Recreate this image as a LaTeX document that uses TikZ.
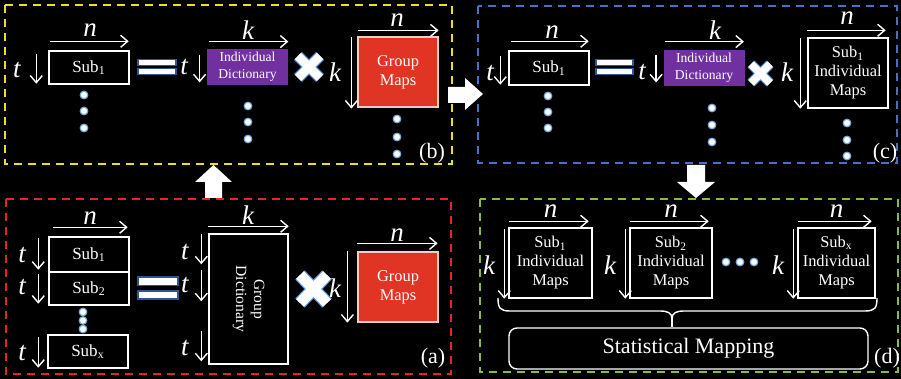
\documentclass[tikz,border=0pt]{standalone}
\usepackage{fontspec}
\setmainfont{Liberation Serif}
\usetikzlibrary{arrows.meta,positioning}

\definecolor{panelyellow}{RGB}{232,224,32}
\definecolor{panelblue}{RGB}{68,114,196}
\definecolor{panelred}{RGB}{224,40,32}
\definecolor{panelgreen}{RGB}{132,190,60}
\definecolor{dictpurple}{RGB}{112,48,160}
\definecolor{mapred}{RGB}{224,52,36}
\definecolor{dotblue}{RGB}{120,170,225}
\definecolor{eqblue}{RGB}{47,85,151}
\definecolor{xblue}{RGB}{90,150,220}

\tikzset{
  subbox/.style={draw=white, line width=0.7pt, fill=black, text=white, inner sep=0pt,
    align=center, minimum width=40pt, font=\fontsize{8.5}{9.5}\selectfont},
  dictbox/.style={fill=dictpurple, text=white, inner sep=0pt, align=center,
    minimum width=40.5pt, minimum height=18pt, font=\fontsize{6.8}{8.3}\selectfont},
  mapbox/.style={fill=mapred, draw=white!75!mapred, line width=0.6pt, text=white, inner sep=0pt,
    align=center, minimum width=40pt, minimum height=35pt, font=\fontsize{8.2}{9.5}\selectfont},
  dimarrow/.style={white, line width=0.7pt, -{Straight Barb[length=3.5pt,width=6pt]}},
  dimlbl/.style={text=white, inner sep=0pt, font=\fontsize{13.5}{13.5}\selectfont\itshape},
  dotmark/.style={circle, fill=white, draw=dotblue, line width=0.6pt, inner sep=0pt, minimum size=3.8pt},
  eqbar/.style={fill=white, draw=eqblue, line width=0.6pt, inner sep=0pt, minimum width=19pt, minimum height=2.8pt},
  panelframe/.style={line width=1pt, dash pattern=on 4pt off 3pt},
  paneltag/.style={text=white, inner sep=0pt, font=\fontsize{11}{11}\selectfont}
}

\begin{document}
\begin{tikzpicture}[x=0.5pt,y=-0.5pt]
\fill[black] (0,0) rectangle (901,379);
\useasboundingbox (0,0) rectangle (901,379);

% dashed panels
\draw[panelframe, draw=panelyellow] (5,5) rectangle (452,164);
\draw[panelframe, draw=panelblue] (478,6) rectangle (897,163);
\draw[panelframe, draw=panelred] (6,199) rectangle (451,374);
\draw[panelframe, draw=panelgreen] (480,199) rectangle (898,372);

% block arrows between panels
\fill[white] (205,198) -- (205,182) -- (195,182) -- (213.5,165) -- (232,182) -- (222,182) -- (222,198) -- cycle;
\fill[white] (448,87) -- (465,87) -- (465,78) -- (483,94) -- (465,110) -- (465,103) -- (448,103) -- cycle;
\fill[white] (687,165) -- (705,165) -- (705,182) -- (715,182) -- (696,198) -- (677,182) -- (687,182) -- cycle;

%%% (b)
\node[subbox, minimum height=16.5pt] (sub1b) at (89,67.5) {Sub\textsubscript{1}};
\draw[dimarrow] ([shift={(2,-9)}]sub1b.north west) -- ([shift={(-1,-9)}]sub1b.north east);
\node[dimlbl] (nb1) at (90,30) {n};
\draw[dimarrow] ([shift={(-12,4)}]sub1b.north west) -- ([shift={(-12,-1)}]sub1b.south west);
\node[dimlbl] (tb1) at (17,70) {t};
\foreach \y [count=\i] in {95,111,128} \node[dotmark] (dotb1\i) at (84,\y) {};

\node[eqbar] (eqb1) at (157,62.5) {};
\node[eqbar] (eqb2) at (157,71.5) {};

\node[dictbox] (dictb) at (247.5,67) {Individual\\Dictionary};
\draw[dimarrow] ([shift={(2,-7)}]dictb.north west) -- ([shift={(0,-7)}]dictb.north east);
\node[dimlbl] (kb1) at (248,30) {k};
\draw[dimarrow] ([shift={(-7,6)}]dictb.north west) -- ([shift={(-7,-3)}]dictb.south west);
\node[dimlbl] (tb2) at (184,67) {t};
\foreach \y [count=\i] in {106,122,139} \node[dotmark] (dotb2\i) at (248,\y) {};

\draw[xblue, line width=5.5pt] (298,56) -- (320,78) (298,78) -- (320,56);
\draw[white, line width=4.4pt] (298,56) -- (320,78) (298,78) -- (320,56);

\node[mapbox] (mapsb) at (398,72) {Group\\Maps};
\draw[dimarrow] ([shift={(1,-6)}]mapsb.north west) -- ([shift={(0,-6)}]mapsb.north east);
\node[dimlbl] (nb2) at (397,20) {n};
\draw[dimarrow] ([shift={(-6,1)}]mapsb.north west) -- ([shift={(-6,1)}]mapsb.south west);
\node[dimlbl] (kb2) at (335,72) {k};
\foreach \y [count=\i] in {119,137,154} \node[dotmark] (dotb3\i) at (397,\y) {};
\node[paneltag] (tagb) at (432,153) {(b)};

%%% (c)
\node[subbox, minimum height=17pt] (sub1c) at (549,68) {Sub\textsubscript{1}};
\draw[dimarrow] ([shift={(3,-9)}]sub1c.north west) -- ([shift={(-1,-9)}]sub1c.north east);
\node[dimlbl] (nc1) at (552,32) {n};
\draw[dimarrow] ([shift={(-8,6)}]sub1c.north west) -- ([shift={(-8,-1)}]sub1c.south west);
\node[dimlbl] (tc1) at (490,73) {t};
\foreach \y [count=\i] in {96,112,128} \node[dotmark] (dotc1\i) at (548,\y) {};

\node[eqbar, minimum width=18.5pt] (eqc1) at (614.5,62.5) {};
\node[eqbar, minimum width=18.5pt] (eqc2) at (614.5,71.5) {};

\node[dictbox] (dictc) at (704,68) {Individual\\Dictionary};
\draw[dimarrow] ([shift={(2,-8)}]dictc.north west) -- ([shift={(-1,-8)}]dictc.north east);
\node[dimlbl] (kc1) at (715,30) {k};
\draw[dimarrow] ([shift={(-7,5)}]dictc.north west) -- ([shift={(-7,-4)}]dictc.south west);
\node[dimlbl] (tc2) at (642,72) {t};
\foreach \y [count=\i] in {108,125,142} \node[dotmark] (dotc2\i) at (712,\y) {};

\draw[xblue, line width=4.9pt] (751,64) -- (770,83) (751,83) -- (770,64);
\draw[white, line width=3.8pt] (751,64) -- (770,83) (751,83) -- (770,64);

\node[subbox, minimum height=35pt, font=\fontsize{8.2}{9.5}\selectfont] (mapsc) at (848,73) {Sub\textsubscript{1}\\Individual\\Maps};
\draw[dimarrow] ([shift={(0,-7)}]mapsc.north west) -- ([shift={(-3,-7)}]mapsc.north east);
\node[dimlbl] (nc2) at (847,18) {n};
\draw[dimarrow] ([shift={(-7,1)}]mapsc.north west) -- ([shift={(-7,0)}]mapsc.south west);
\node[dimlbl] (kc2) at (787,72) {k};
\foreach \y [count=\i] in {123,140,156} \node[dotmark] (dotc3\i) at (847,\y) {};
\node[paneltag] (tagc) at (885,153) {(c)};

%%% (a)
\node[subbox, minimum height=17.5pt] (sub1a) at (89,254.5) {Sub\textsubscript{1}};
\node[subbox, minimum height=16.5pt] (sub2a) at (89,288.5) {Sub\textsubscript{2}};
\node[subbox, minimum height=16.5pt] (subxa) at (88,351.5) {Sub\textsubscript{x}};
\draw[dimarrow] ([shift={(5,-9)}]sub1a.north west) -- ([shift={(-2,-9)}]sub1a.north east);
\node[dimlbl] (na1) at (90,218) {n};
\draw[dimarrow] ([shift={(-10,2)}]sub1a.north west) -- ([shift={(-10,-3)}]sub1a.south west);
\draw[dimarrow] ([shift={(-10,3)}]sub2a.north west) -- ([shift={(-10,-2)}]sub2a.south west);
\draw[dimarrow] ([shift={(-9,3)}]subxa.north west) -- ([shift={(-9,-1)}]subxa.south west);
\node[dimlbl] (ta1) at (22,255) {t};
\node[dimlbl] (ta2) at (22,287) {t};
\node[dimlbl] (ta3) at (22,353) {t};
\foreach \y [count=\i] in {312,320.5,329} \node[dotmark] (dota1\i) at (83,\y) {};

\node[eqbar, minimum width=20pt, minimum height=4.4pt] (eqa1) at (158,281.5) {};
\node[eqbar, minimum width=20pt, minimum height=4pt] (eqa2) at (158,295) {};

\node[subbox, minimum width=39.5pt, minimum height=65pt] (gdict) at (248.5,299) {};
\node[rotate=-90, text=white, align=center, inner sep=0pt, font=\fontsize{7.8}{9}\selectfont] (gdictlbl) at (gdict.center) {Group\\Dictionary};
\draw[dimarrow] ([shift={(0,-7)}]gdict.north west) -- ([shift={(0,-7)}]gdict.north east);
\node[dimlbl] (ka1) at (248,215) {k};
\draw[dimarrow] ([shift={(-7,1)}]gdict.north west) -- ([shift={(-7,31)}]gdict.north west);
\draw[dimarrow] ([shift={(-7,37)}]gdict.north west) -- ([shift={(-7,68)}]gdict.north west);
\draw[dimarrow] ([shift={(-7,98)}]gdict.north west) -- ([shift={(-7,128)}]gdict.north west);
\node[dimlbl] (ta4) at (185,252) {t};
\node[dimlbl] (ta5) at (185,285) {t};
\node[dimlbl] (ta6) at (185,348) {t};

\draw[xblue, line width=6.6pt] (300,275) -- (327,303) (300,303) -- (327,275);
\draw[white, line width=5.4pt] (300,275) -- (327,303) (300,303) -- (327,275);

\node[mapbox] (mapsa) at (398,287) {Group\\Maps};
\draw[dimarrow] ([shift={(0,-8)}]mapsa.north west) -- ([shift={(-1,-8)}]mapsa.north east);
\node[dimlbl] (na2) at (397,235) {n};
\draw[dimarrow] ([shift={(-10,0)}]mapsa.north west) -- ([shift={(-10,0)}]mapsa.south west);
\node[dimlbl] (ka2) at (335,288) {k};
\node[paneltag] (taga) at (433,358) {(a)};

%%% (d)
\node[subbox, minimum width=41.5pt, minimum height=35pt, font=\fontsize{8.2}{9.5}\selectfont] (mapsd1) at (550.5,263) {Sub\textsubscript{1}\\Individual\\Maps};
\node[subbox, minimum width=41pt, minimum height=35pt, font=\fontsize{8.2}{9.5}\selectfont] (mapsd2) at (671,263) {Sub\textsubscript{2}\\Individual\\Maps};
\node[subbox, minimum width=38.5pt, minimum height=35pt, font=\fontsize{8.2}{9.5}\selectfont] (mapsdx) at (836.5,263) {Sub\textsubscript{x}\\Individual\\Maps};
\foreach \m/\lx in {mapsd1/489,mapsd2/610,mapsdx/778}{
  \draw[dimarrow] ([shift={(1,-6)}]\m.north west) -- ([shift={(-4,-6)}]\m.north east);
  \draw[dimarrow] ([shift={(-4,2)}]\m.north west) -- ([shift={(-4,0)}]\m.south west);
  \node[dimlbl] (k\m) at (\lx,265) {k};
  \node[dimlbl] (n\m) at ([yshift=8pt]\m.north) {n};
}
\foreach \x [count=\i] in {726,740,754} \node[dotmark] (dotd\i) at (\x,262) {};

\node[subbox, rounded corners=4pt, minimum width=179.5pt, minimum height=20.5pt,
  font=\fontsize{11}{11}\selectfont] (stat) at (688.5,348.5) {Statistical Mapping};
\coordinate (bracetip) at (672,319);
\draw[white, line width=0.7pt] (498,298) .. controls (498,308) and (500,311) .. (510,311) -- (660,311)
  .. controls (668,311) and (672,313) .. (bracetip)
  .. controls (672,313) and (676,311) .. (684,311) -- (865,311)
  .. controls (875,311) and (877,308) .. (877,298);
\draw[white, line width=0.7pt] (bracetip) -- (bracetip |- stat.north);
\node[paneltag] (tagd) at (887,358) {(d)};
\end{tikzpicture}
\end{document}
